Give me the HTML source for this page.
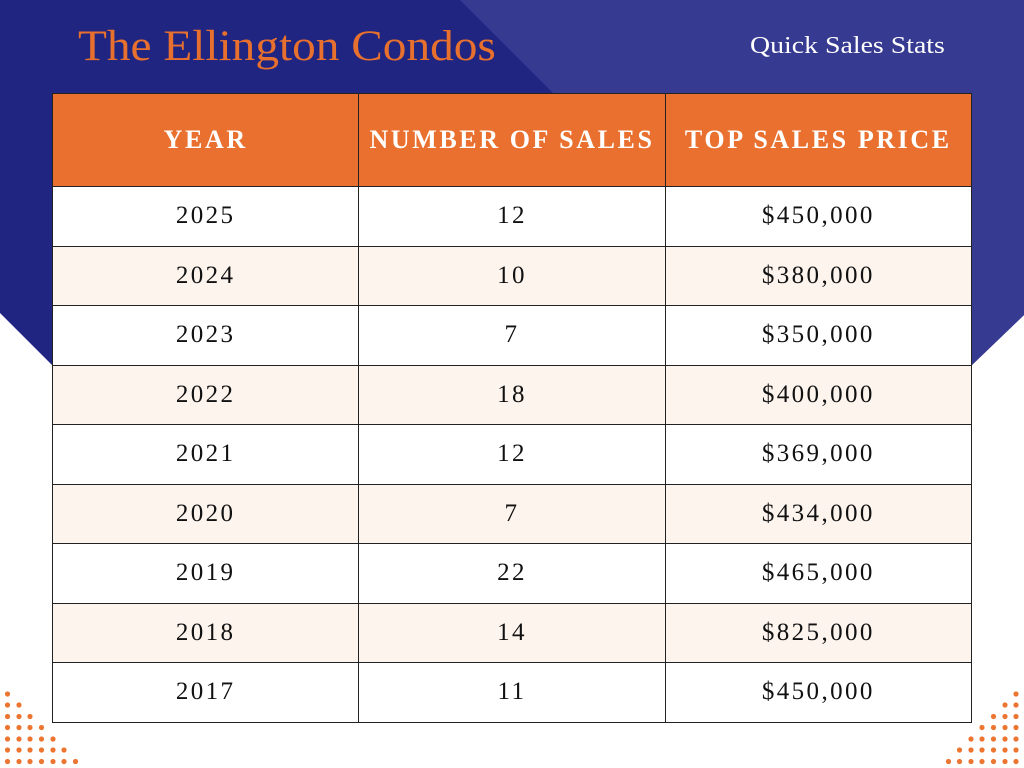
<!DOCTYPE html>
<html><head><meta charset="utf-8"><style>
body{margin:0;width:1024px;height:768px;position:relative;background:#fff;overflow:hidden;font-family:"Liberation Serif",serif}
svg{position:absolute;left:0;top:0}
.t{position:absolute;left:78px;top:22px;font-size:43px;color:#e8702e;transform:scaleX(1.1);transform-origin:left;white-space:nowrap}
.q{position:absolute;left:750px;top:33px;font-size:24px;color:#fff;transform:scaleX(1.16);transform-origin:left;white-space:nowrap}
table{position:absolute;left:52px;top:93px;width:920px;border-collapse:collapse}
td,th{border:1.3px solid #222;text-align:center;width:33.3%;padding:0}
th{background:#e9702e;color:#fff;height:92px;font-size:26px;letter-spacing:2.6px;font-weight:bold;white-space:nowrap}
td{height:58.5px;font-size:25px;letter-spacing:2.4px;color:#111;background:#fff}
tr:nth-child(odd) td{background:#fdf4ee}
</style></head><body>
<svg width="1024" height="768">
<polygon points="0,0 1024,0 1024,315 972,365 52,365 0,313" fill="#1f2580"/>
<polygon points="460,0 1024,0 1024,315 972,365 825,365" fill="#363a91"/>
<g fill="#ec7531">
<circle cx="7.5" cy="694" r="2.6"/>
<circle cx="7.5" cy="705" r="2.6"/><circle cx="19" cy="705" r="2.6"/>
<circle cx="7.5" cy="716.5" r="2.6"/><circle cx="19" cy="716.5" r="2.6"/><circle cx="30" cy="716.5" r="2.6"/>
<circle cx="7.5" cy="727.5" r="2.6"/><circle cx="19" cy="727.5" r="2.6"/><circle cx="30" cy="727.5" r="2.6"/><circle cx="41.5" cy="727.5" r="2.6"/>
<circle cx="7.5" cy="739" r="2.6"/><circle cx="19" cy="739" r="2.6"/><circle cx="30" cy="739" r="2.6"/><circle cx="41.5" cy="739" r="2.6"/><circle cx="53" cy="739" r="2.6"/>
<circle cx="7.5" cy="750" r="2.6"/><circle cx="19" cy="750" r="2.6"/><circle cx="30" cy="750" r="2.6"/><circle cx="41.5" cy="750" r="2.6"/><circle cx="53" cy="750" r="2.6"/><circle cx="64" cy="750" r="2.6"/>
<circle cx="7.5" cy="761.5" r="2.6"/><circle cx="19" cy="761.5" r="2.6"/><circle cx="30" cy="761.5" r="2.6"/><circle cx="41.5" cy="761.5" r="2.6"/><circle cx="53" cy="761.5" r="2.6"/><circle cx="64" cy="761.5" r="2.6"/><circle cx="75.5" cy="761.5" r="2.6"/>
<circle cx="1016" cy="694" r="2.6"/>
<circle cx="1016" cy="705" r="2.6"/><circle cx="1005" cy="705" r="2.6"/>
<circle cx="1016" cy="716.5" r="2.6"/><circle cx="1005" cy="716.5" r="2.6"/><circle cx="993.5" cy="716.5" r="2.6"/>
<circle cx="1016" cy="727.5" r="2.6"/><circle cx="1005" cy="727.5" r="2.6"/><circle cx="993.5" cy="727.5" r="2.6"/><circle cx="982" cy="727.5" r="2.6"/>
<circle cx="1016" cy="739" r="2.6"/><circle cx="1005" cy="739" r="2.6"/><circle cx="993.5" cy="739" r="2.6"/><circle cx="982" cy="739" r="2.6"/><circle cx="971" cy="739" r="2.6"/>
<circle cx="1016" cy="750" r="2.6"/><circle cx="1005" cy="750" r="2.6"/><circle cx="993.5" cy="750" r="2.6"/><circle cx="982" cy="750" r="2.6"/><circle cx="971" cy="750" r="2.6"/><circle cx="959.5" cy="750" r="2.6"/>
<circle cx="1016" cy="761.5" r="2.6"/><circle cx="1005" cy="761.5" r="2.6"/><circle cx="993.5" cy="761.5" r="2.6"/><circle cx="982" cy="761.5" r="2.6"/><circle cx="971" cy="761.5" r="2.6"/><circle cx="959.5" cy="761.5" r="2.6"/><circle cx="948.5" cy="761.5" r="2.6"/>
</g></svg>
<div class="t">The Ellington Condos</div>
<div class="q">Quick Sales Stats</div>
<table>
<tr><th>YEAR</th><th>NUMBER OF SALES</th><th>TOP SALES PRICE</th></tr>
<tr><td>2025</td><td>12</td><td>$450,000</td></tr>
<tr><td>2024</td><td>10</td><td>$380,000</td></tr>
<tr><td>2023</td><td>7</td><td>$350,000</td></tr>
<tr><td>2022</td><td>18</td><td>$400,000</td></tr>
<tr><td>2021</td><td>12</td><td>$369,000</td></tr>
<tr><td>2020</td><td>7</td><td>$434,000</td></tr>
<tr><td>2019</td><td>22</td><td>$465,000</td></tr>
<tr><td>2018</td><td>14</td><td>$825,000</td></tr>
<tr><td>2017</td><td>11</td><td>$450,000</td></tr>
</table>
</body></html>
